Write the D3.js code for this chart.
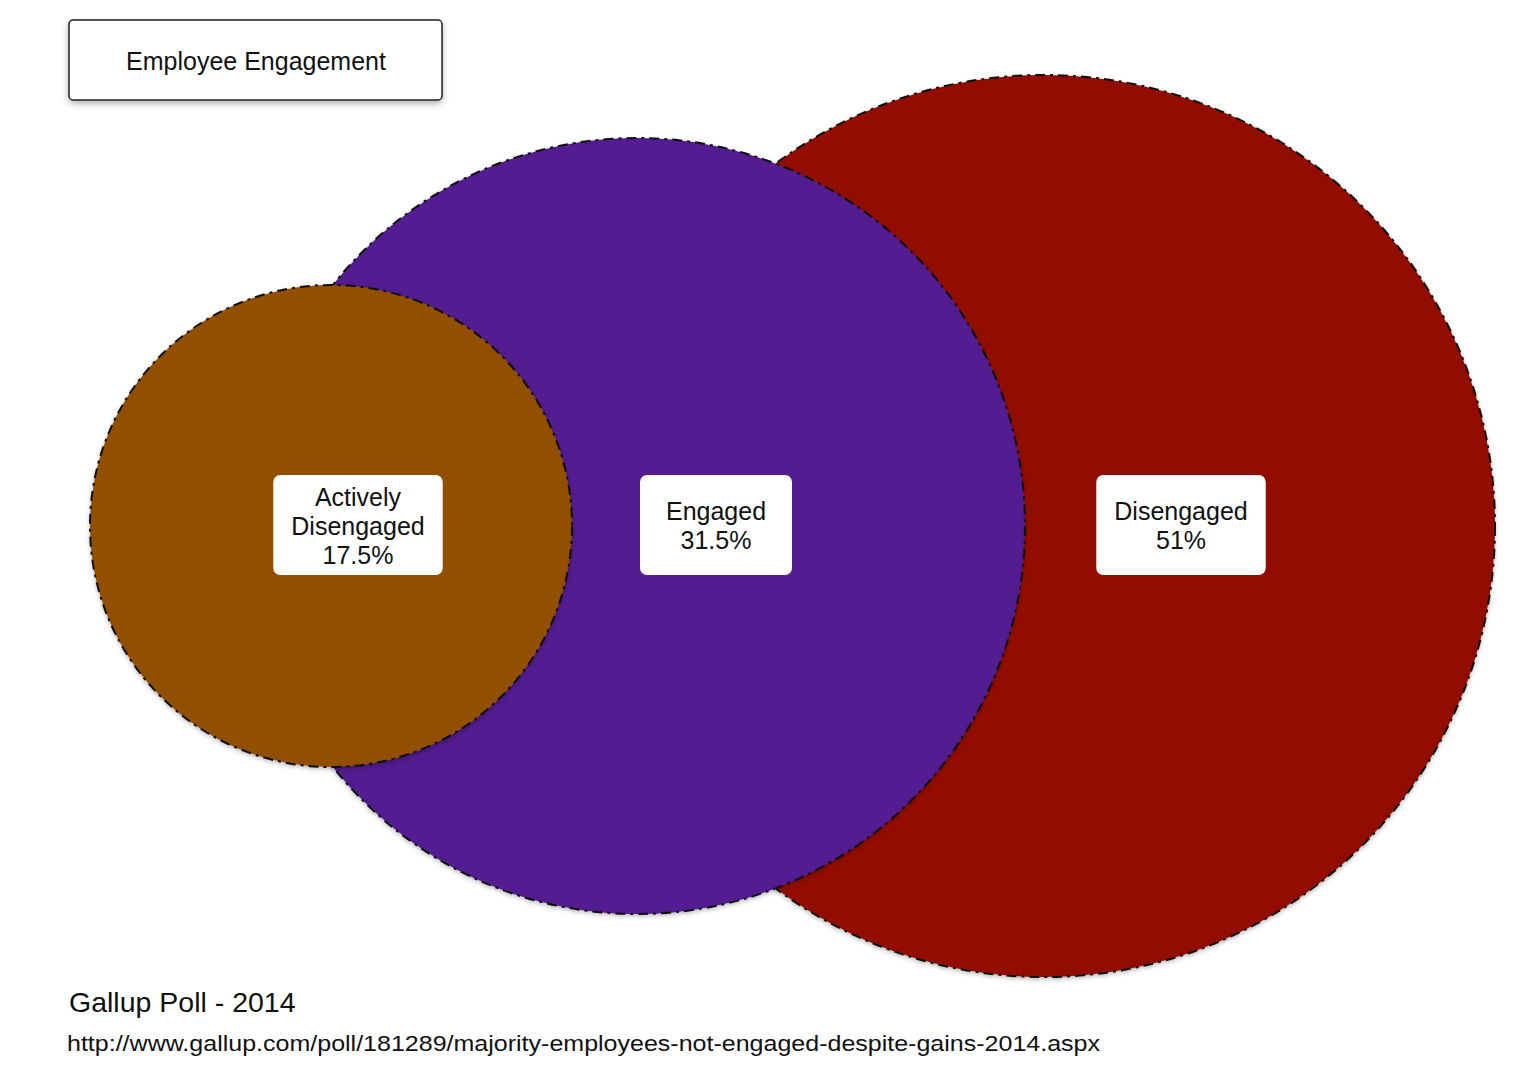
<!DOCTYPE html>
<html>
<head>
<meta charset="utf-8">
<script src="https://cdn.jsdelivr.net/npm/d3@7"></script>
<style>
  html, body { margin: 0; padding: 0; background: #fff; }
  svg { display: block; }
  svg text { font-family: "Liberation Sans", Arial, Helvetica, sans-serif; }
</style>
</head>
<body>
<svg id="chart" width="1516" height="1085"></svg>
<script>
// ---- data ----
const title = "Employee Engagement";
const categories = ["Actively Disengaged", "Engaged", "Disengaged"];
const labelLines = [["Actively", "Disengaged"], ["Engaged"], ["Disengaged"]];
const values = [17.5, 31.5, 51];
const sourceTitle = "Gallup Poll - 2014";
const sourceUrl = "http://www.gallup.com/poll/181289/majority-employees-not-engaged-despite-gains-2014.aspx";

// ---- styles / layout ----
const colors = ["#934f00", "#521b90", "#921000"];
const FONT = "'Liberation Sans', Arial, Helvetica, sans-serif";
const CY = 526;

const svg = d3.select("#chart");
const defs = svg.append("defs");
const sh = defs.append("filter").attr("id", "shadow")
  .attr("x", "-10%").attr("y", "-10%").attr("width", "120%").attr("height", "130%");
sh.append("feDropShadow").attr("dx", 0).attr("dy", 3).attr("stdDeviation", 3)
  .attr("flood-color", "#000").attr("flood-opacity", 0.3);
const sh2 = defs.append("filter").attr("id", "shadow2")
  .attr("x", "-5%").attr("y", "-5%").attr("width", "110%").attr("height", "110%");
sh2.append("feDropShadow").attr("dx", 0).attr("dy", 2).attr("stdDeviation", 2)
  .attr("flood-color", "#000").attr("flood-opacity", 0.25);

const rScale = d3.scaleLinear().domain(values).range([241, 388, 451]);
const cxScale = d3.scaleLinear().domain(values).range([331, 637, 1044]);
const lxScale = d3.scaleLinear().domain(values).range([358, 716, 1181]);
const color = d3.scaleOrdinal().domain(categories).range(colors);

const data = categories.map((c, i) => ({ cat: c, value: values[i], lines: labelLines[i].concat([values[i] + "%"]) }));

// draw largest first so smaller overlap on top
const order = data.slice().sort((a, b) => b.value - a.value);
svg.append("g").selectAll("circle").data(order).join("circle")
  .attr("cx", d => cxScale(d.value))
  .attr("cy", CY)
  .attr("r", d => rScale(d.value))
  .attr("fill", d => color(d.cat))
  .attr("stroke", "#111")
  .attr("stroke-width", 2)
  .attr("stroke-dasharray", "10,5,3,5")
  .attr("filter", "url(#shadow2)");

// labels
const lh = 29, fs = 25;
const lab = svg.append("g").selectAll("g").data(data).join("g")
  .attr("transform", d => `translate(${lxScale(d.value)},${CY})`);
lab.each(function (d) {
  const g = d3.select(this);
  const rect = g.append("rect").attr("fill", "#fff").attr("rx", 7).attr("ry", 7);
  const n = d.lines.length;
  const t = g.selectAll("text").data(d.lines).join("text")
    .attr("text-anchor", "middle")
    .attr("font-family", FONT)
    .attr("font-size", fs)
    .attr("fill", "#111")
    .attr("x", 0)
    .attr("y", (l, i) => (i - (n - 1) / 2) * lh)
    .attr("dy", "0.35em")
    .text(l => l);
  let maxW = 0;
  t.each(function () { maxW = Math.max(maxW, this.getComputedTextLength()); });
  const bw = Math.max(maxW + 36, 152), bh = 100;
  rect.attr("x", -bw / 2).attr("y", -bh / 2 - 1).attr("width", bw).attr("height", bh);
});

// title box
const tg = svg.append("g");
tg.append("rect").attr("x", 69).attr("y", 20).attr("width", 373).attr("height", 80)
  .attr("rx", 4).attr("fill", "#fff").attr("stroke", "#222").attr("stroke-width", 1.5)
  .attr("filter", "url(#shadow)");
tg.append("text").attr("x", 256).attr("y", 61).attr("dy", "0.35em")
  .attr("font-family", FONT)
  .attr("text-anchor", "middle").attr("font-size", 25).attr("fill", "#111").text(title);

// source
svg.append("text").attr("x", 69).attr("y", 1012).attr("font-family", FONT)
  .attr("font-size", 28.5).attr("fill", "#111").text(sourceTitle);
svg.append("text").attr("x", 67).attr("y", 1051).attr("font-family", FONT)
  .attr("font-size", 22).attr("fill", "#111").attr("textLength", 1033).attr("lengthAdjust", "spacingAndGlyphs")
  .text(sourceUrl);
</script>
</body>
</html>
